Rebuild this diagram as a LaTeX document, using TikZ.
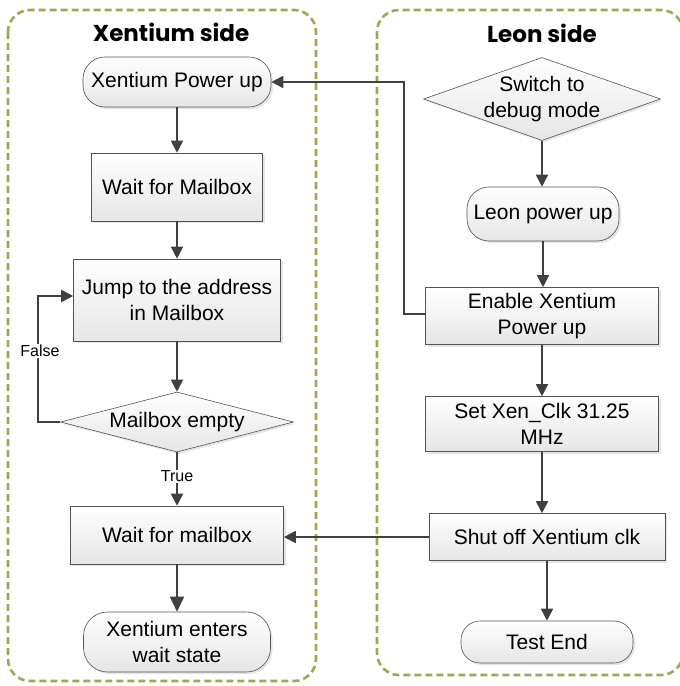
\documentclass[tikz,border=0pt]{standalone}
\usepackage{fontspec}
\setmainfont{Liberation Sans}
\newfontfamily\titlefont{Poppins}
\usetikzlibrary{shapes.geometric,arrows.meta,shadows,calc}
\definecolor{dashgreen}{HTML}{93AE52}
\definecolor{linegray}{HTML}{404040}
\begin{document}
\begin{tikzpicture}[x=1pt,y=-1pt,
  base/.style={draw=gray!65!black, line width=0.6pt, top color=white, bottom color=gray!20,
    drop shadow={shadow xshift=2pt,shadow yshift=-2pt,fill=gray!45,opacity=0.45},
    font=\fontsize{21}{26}\selectfont, align=center, inner sep=0pt},
  procbox/.style={base, rectangle},
  terminal/.style={base, rectangle, rounded corners=#1},
  decision/.style={base, diamond},
  container/.style={draw=dashgreen, line width=2.6pt, dash pattern=on 7pt off 4pt, rounded corners=22pt},
  arr/.style={draw=linegray, line width=1.8pt, -{Triangle[length=12pt,width=12pt]}},
  lbl/.style={font=\fontsize{16}{18}\selectfont, fill=white, inner sep=1pt},
  titletxt/.style={font=\titlefont\bfseries\fontsize{23}{26}\selectfont}
]
\useasboundingbox (0,0) rectangle (680,686);
\clip (0,0) rectangle (680,686);

% containers
\draw[container] (8,10) rectangle (316,681);
\draw[container] (377,10) rectangle (683,675);
\node[titletxt] (t1) at (171,32) {Xentium side};
\node[titletxt] (t2) at (542,33) {Leon side};

% left column
\node[terminal=22pt, minimum width=188pt, minimum height=50pt] (xpu) at (177,82) {Xentium Power up};
\node[procbox, minimum width=171pt, minimum height=68pt] (wfm) at (177,187) {Wait for Mailbox};
\node[procbox, minimum width=207pt, minimum height=82pt] (jump) at (177,300) {Jump to the address\\in Mailbox};
\node[decision, aspect=3.88, minimum width=233pt, minimum height=60pt, inner sep=-6pt] (mbe) at (177,422) {Mailbox empty};
\node[procbox, minimum width=213pt, minimum height=58pt] (wfm2) at (177,535) {Wait for mailbox};
\node[terminal=24pt, minimum width=187pt, minimum height=60pt] (xews) at (177,642) {Xentium enters\\wait state};

% right column
\node[decision, aspect=2.86, minimum width=237pt, minimum height=83pt, inner sep=-12pt] (sdm) at (542,99) {Switch to\\debug mode};
\node[terminal=22pt, minimum width=152pt, minimum height=54pt] (lpu) at (543,214) {Leon power up};
\node[procbox, minimum width=233pt, minimum height=57pt] (exp) at (542,316) {Enable Xentium\\Power up};
\node[procbox, minimum width=233pt, minimum height=55pt] (clk) at (542,424) {Set Xen\_Clk 31.25\\MHz};
\node[procbox, minimum width=236pt, minimum height=47pt] (sox) at (547,537) {Shut off Xentium clk};
\node[terminal=19pt, minimum width=172pt, minimum height=42pt] (te) at (547,642) {Test End};

% left arrows
\draw[arr] (xpu) -- (wfm);
\draw[arr] (wfm) -- (jump);
\draw[arr] (jump) -- (mbe);
\draw[arr] (mbe) -- node[lbl, pos=0.45] (tru) {True} (wfm2);
\draw[arr, -{Triangle[length=15pt,width=14pt]}] (wfm2) -- (xews);
\draw[arr] (mbe.west) -- ++(-22,0) coordinate (fl) |- ($(jump.west)+(0,-4)$);
\node[lbl] (fal) at (40,351) {False};

% right arrows
\draw[arr] (sdm.south) -- (sdm.south |- lpu.north);
\draw[arr] (lpu.south) -- (lpu.south |- exp.north);
\draw[arr] (exp) -- (clk);
\draw[arr] (clk.south) -- (clk.south |- sox.north);
\draw[arr] (sox) -- (te);

% cross arrows
\draw[arr] ($(exp.west)+(0,-2)$) -- ++(-21,0) |- (xpu.east);
\draw[arr] (sox.west) -- (sox.west -| wfm2.east);
\end{tikzpicture}
\end{document}
